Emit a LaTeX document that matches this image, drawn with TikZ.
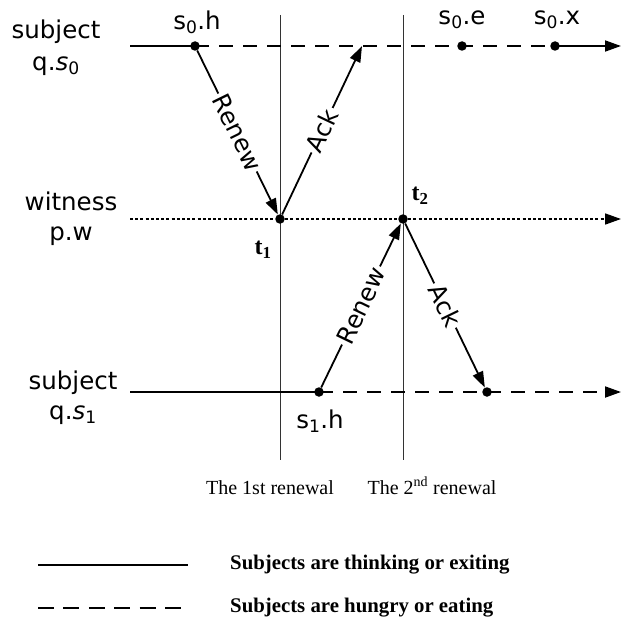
\documentclass[tikz,border=0pt]{standalone}
\usepackage{fontspec}
\setmainfont{Liberation Serif}
\newfontfamily\labfont{DejaVu Sans}
\usetikzlibrary{arrows.meta}
\tikzset{
  lab/.style={font=\labfont\fontsize{24.5}{30}\selectfont, inner sep=0pt},
  tlab/.style={font=\bfseries\fontsize{24}{26}\selectfont, inner sep=0pt},
  captext/.style={font=\fontsize{20}{24}\selectfont, inner sep=0pt, anchor=base},
  leg/.style={font=\bfseries\fontsize{20.8}{24}\selectfont, inner sep=0pt, anchor=west},
  dot/.style={circle, fill=black, minimum size=9.5pt, inner sep=0pt},
  arr/.style={line width=1.8pt, -{Triangle[length=16pt,width=11pt]}},
  msg/.style={lab, fill=white, sloped, inner sep=2.5pt},
  life/.style={line width=1.9pt},
  dashedlife/.style={line width=1.9pt, dash pattern=on 14pt off 10pt},
  dottedlife/.style={line width=1.7pt, dash pattern=on 3pt off 2.2pt},
  vline/.style={line width=0.9pt, black!80},
}
\begin{document}
\begin{tikzpicture}[x=1pt,y=-1pt]
\useasboundingbox (0,0) rectangle (621,623);

% vertical renewal lines
\coordinate (v1t) at (280,15);
\coordinate (v1b) at (280,460);
\coordinate (v2t) at (403,15);
\coordinate (v2b) at (403,460);
\draw[vline] (v1t) -- (v1b);
\draw[vline] (v2t) -- (v2b);

% points
\node[dot] (s0h) at (195,46) {};
\node[dot] (s0e) at (462,46) {};
\node[dot] (s0x) at (555,46) {};
\node[dot] (t1) at (280,219) {};
\node[dot] (t2) at (403,219) {};
\node[dot] (s1h) at (319,392) {};
\node[dot] (r2) at (487,392) {};
\coordinate (ackend) at (362,46);

% life lines
\coordinate (a0) at (130,46);
\coordinate (a1) at (621,46);
\draw[life] (a0) -- (s0h.center);
\draw[dashedlife] (s0h.center) -- (s0x.center);
\draw[arr] (s0x.center) -- (a1);

\coordinate (w0) at (130,219);
\coordinate (w1) at (621,219);
\draw[dottedlife] (w0) -- (t1.center);
\draw[dottedlife] (t1.center) -- (t2.center);
\draw[dottedlife,-{Triangle[length=16pt,width=11pt]}] (t2.center) -- (w1);

\coordinate (b0) at (130,392);
\coordinate (b1) at (621,392);
\draw[life] (b0) -- (s1h.center);
\draw[dashedlife] (s1h.center) -- (r2.center);
\draw[dashedlife,-{Triangle[length=16pt,width=11pt]}] (r2.center) -- (b1);

% messages
\draw[arr] (s0h) -- node[msg] (m1) {Renew} (t1);
\draw[arr] (t1) -- node[msg] (m2) {Ack} (ackend);
\draw[arr] (s1h) -- node[msg] (m3) {Renew} (t2);
\draw[arr] (t2) -- node[msg] (m4) {Ack} (r2);

% process labels
\node[lab, align=center] (p0) at (56,48) {subject\\[2pt]q.{\itshape s}\textsubscript{0}};
\node[lab, align=center] (pw) at (71,219) {witness\\p.w};
\node[lab, align=center] (p1) at (73,398) {subject\\q.{\itshape s}\textsubscript{1}};

% event labels
\node[lab] (ls0h) at (197,22) {s\textsubscript{0}.h};
\node[lab] (ls0e) at (462,20) {s\textsubscript{0}.e};
\node[lab] (ls0x) at (557,20) {s\textsubscript{0}.x};
\node[lab] (ls1h) at (320,421) {s\textsubscript{1}.h};
\node[tlab] (lt1) at (263,250) {t\textsubscript{1}};
\node[tlab] (lt2) at (420,196) {t\textsubscript{2}};

% captions
\node[captext] (c1) at (270,494) {The 1st renewal};
\node[captext] (c2) at (432,494) {The 2\textsuperscript{nd} renewal};

% legend
\coordinate (l1a) at (38,565);
\coordinate (l1b) at (188,565);
\coordinate (l2a) at (38,608);
\coordinate (l2b) at (181,608);
\draw[line width=2pt] (l1a) -- (l1b);
\draw[line width=2pt, dash pattern=on 16pt off 9.4pt] (l2a) -- (l2b);
\node[leg] (t1leg) at (230,565) {Subjects are thinking or exiting};
\node[leg] (t2leg) at (230,608) {Subjects are hungry or eating};
\end{tikzpicture}
\end{document}
